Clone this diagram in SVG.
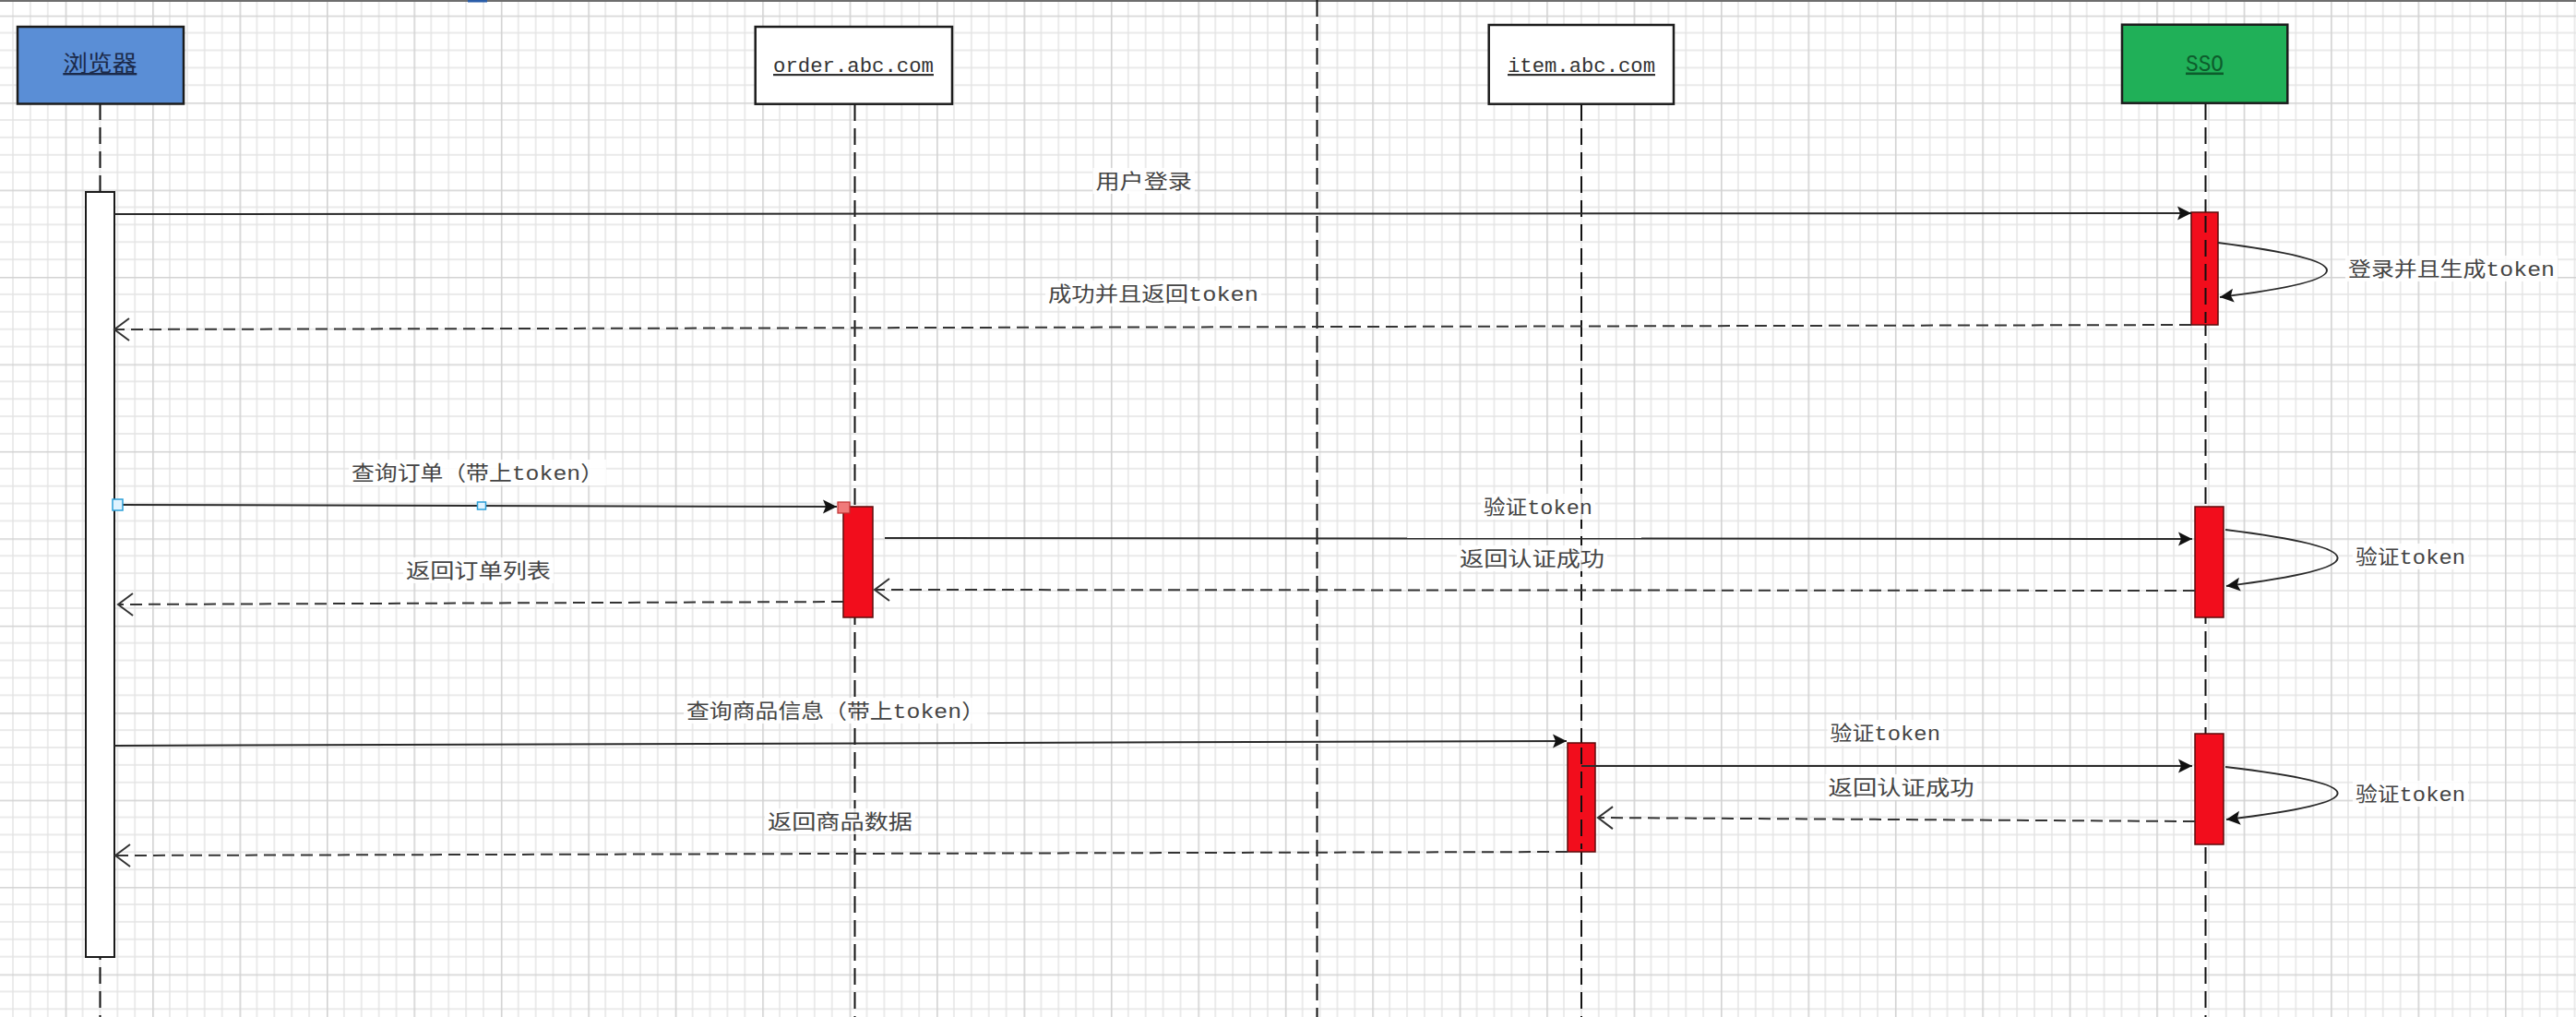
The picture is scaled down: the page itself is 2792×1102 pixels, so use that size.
<svg xmlns="http://www.w3.org/2000/svg" width="2792" height="1102" viewBox="0 0 2792 1102">
<style>
.box{stroke:#1c1c1c;stroke-width:2.5}
.life{stroke:#111;stroke-width:2;stroke-dasharray:18 8;fill:none}
.act{fill:#f20d1c;stroke:#5c0b0b;stroke-width:1.5}
.msg{stroke:#2a2a2a;stroke-width:2;fill:none}
.ret{stroke:#333;stroke-width:2;stroke-dasharray:13 7;fill:none}
.lbl{font-family:"Liberation Mono","Noto Sans CJK SC",monospace;font-size:22px;fill:#444}
.bg{fill:#fff;fill-opacity:0.85}
.node{font-family:"Liberation Mono","Noto Sans CJK SC",monospace;font-size:22px;text-decoration:underline}
</style>
<defs>
<pattern id="grid" x="70.66" y="16.7" width="94.44" height="94.44" patternUnits="userSpaceOnUse">
<path d="M18.888,0V94.44M37.776,0V94.44M56.664,0V94.44M75.552,0V94.44M0,18.888H94.44M0,37.776H94.44M0,56.664H94.44M0,75.552H94.44" stroke="#e3e3e3" stroke-width="1.4" fill="none"/>
<path d="M0.8,0V94.44M0,0.8H94.44" stroke="#d2d2d2" stroke-width="1.6" fill="none"/>
</pattern>
<marker id="fa" markerUnits="userSpaceOnUse" markerWidth="16" markerHeight="16" refX="15" refY="7.5" orient="auto" overflow="visible">
<path d="M0,0 L15,7.5 L0,15 L3,7.5 Z" fill="#111" stroke="none"/>
</marker>
<marker id="oa" markerUnits="userSpaceOnUse" markerWidth="20" markerHeight="26" refX="17" refY="12" orient="auto" overflow="visible">
<path d="M1,0 L17,12 L1,24" fill="none" stroke="#333" stroke-width="2" stroke-dasharray="none"/>
</marker>
</defs>
<rect width="2792" height="1102" fill="#fff"/>
<rect width="2792" height="1102" fill="url(#grid)"/>
<rect x="0" y="0" width="2792" height="2" fill="#6e6e6e"/>
<rect x="507" y="0" width="21" height="2.5" fill="#2a5da8"/>

<line x1="1427.5" y1="0" x2="1427.5" y2="1102" class="life"/>

<g id="browser">
<line x1="108.5" y1="112" x2="108.5" y2="1102" class="life"/>
<rect x="19" y="29" width="180" height="83.5" fill="#5a8ed6" class="box"/>
<text x="68.3" y="77" class="node" style="font-family:'Noto Sans CJK SC',sans-serif;font-size:24px" fill="#1b2a4a" textLength="80" lengthAdjust="spacingAndGlyphs">浏览器</text>
<rect x="93" y="208" width="31" height="829" fill="#fff" stroke="#1a1a1a" stroke-width="2"/>
</g>

<g id="order">
<line x1="926.5" y1="113" x2="926.5" y2="1102" class="life"/>
<rect x="818.7" y="29" width="213.3" height="83.7" fill="#fff" class="box"/>
<text x="838" y="78" class="node" fill="#333" textLength="174" lengthAdjust="spacingAndGlyphs">order.abc.com</text>
<rect x="914" y="549" width="32" height="120" class="act"/>
</g>

<g id="item">
<line x1="1714" y1="113" x2="1714" y2="1102" class="life"/>
<rect x="1613.7" y="27" width="200.3" height="85.7" fill="#fff" class="box"/>
<text x="1634" y="78" class="node" fill="#333" textLength="160" lengthAdjust="spacingAndGlyphs">item.abc.com</text>
<rect x="1699" y="805" width="30" height="118" class="act"/>
<line x1="1714" y1="810" x2="1714" y2="920" class="life"/>
</g>

<g id="sso">
<line x1="2390.5" y1="112" x2="2390.5" y2="1102" class="life"/>
<rect x="2300" y="26.7" width="179.3" height="85" fill="#20b058" class="box"/>
<text x="2369" y="76.5" class="node" style="font-size:26px" fill="#0d5c2c" textLength="41" lengthAdjust="spacingAndGlyphs">SSO</text>
<rect x="2375" y="230" width="29" height="122" class="act"/>
<line x1="2390.5" y1="234" x2="2390.5" y2="350" class="life"/>
<rect x="2379" y="549" width="31" height="120" class="act"/>
<rect x="2379" y="795" width="31" height="120" class="act"/>
</g>

<g id="connectors">
<g id="m1">
<path d="M124,232 L2375,231" class="msg" marker-end="url(#fa)"/>
<rect x="1184.5" y="182" width="110.5" height="28" class="bg"/>
<text x="1187.5" y="204" class="lbl" textLength="104.5" lengthAdjust="spacingAndGlyphs">用户登录</text>
</g>
<g id="m2">
<path d="M2404,263 C2561,283 2561,303 2406,322" class="msg" marker-end="url(#fa)"/>
<rect x="2542" y="277" width="230" height="28" class="bg"/>
<text x="2545" y="299" class="lbl" textLength="224" lengthAdjust="spacingAndGlyphs">登录并且生成token</text>
</g>
<g id="m3">
<path d="M2375,352 L124,357" class="ret" marker-end="url(#oa)"/>
<rect x="1133" y="304" width="234" height="28" class="bg"/>
<text x="1136" y="326" class="lbl" textLength="228" lengthAdjust="spacingAndGlyphs">成功并且返回token</text>
</g>
<g id="m4">
<path d="M128,547 L907,549" class="msg" marker-end="url(#fa)"/>
<rect x="122" y="541" width="11" height="12" fill="#dff3ff" stroke="#2a9fd8" stroke-width="1.5"/>
<rect x="517.5" y="544" width="9" height="8" fill="#dff3ff" stroke="#2a9fd8" stroke-width="1.5"/>
<rect x="908" y="544" width="13" height="12" fill="#f07a7a" stroke="#c03030" stroke-width="1.2"/>
<rect x="378" y="498" width="279" height="28" class="bg"/>
<text x="381" y="520" class="lbl" textLength="273" lengthAdjust="spacingAndGlyphs">查询订单（带上token）</text>
</g>
<g id="m5">
<path d="M959,583 L2376,584" class="msg" marker-end="url(#fa)"/>
<rect x="1605" y="535" width="124" height="28" class="bg"/>
<text x="1608" y="557" class="lbl" textLength="118" lengthAdjust="spacingAndGlyphs">验证token</text>
</g>
<g id="m6">
<path d="M2412,574 C2574,594 2574,615 2413,635" class="msg" marker-end="url(#fa)"/>
<rect x="2550" y="589" width="125" height="28" class="bg"/>
<text x="2553" y="611" class="lbl" textLength="119" lengthAdjust="spacingAndGlyphs">验证token</text>
</g>
<g id="m7">
<path d="M2379,640 L948,639" class="ret" marker-end="url(#oa)"/>
<rect x="1579" y="591" width="163" height="28" class="bg"/>
<text x="1582" y="613" class="lbl" textLength="157" lengthAdjust="spacingAndGlyphs">返回认证成功</text>
</g>
<g id="m8">
<path d="M914,652 L128,655" class="ret" marker-end="url(#oa)"/>
<rect x="437" y="604" width="163" height="28" class="bg"/>
<text x="440" y="626" class="lbl" textLength="157" lengthAdjust="spacingAndGlyphs">返回订单列表</text>
</g>
<g id="m9">
<path d="M124,808 L1698,803" class="msg" marker-end="url(#fa)"/>
<rect x="741" y="756" width="329" height="28" class="bg"/>
<text x="744" y="778" class="lbl" textLength="323" lengthAdjust="spacingAndGlyphs">查询商品信息（带上token）</text>
</g>
<g id="m10">
<path d="M1714,830 L2376,830" class="msg" marker-end="url(#fa)"/>
<rect x="1980.5" y="780" width="125.5" height="28" class="bg"/>
<text x="1983.5" y="802" class="lbl" textLength="119.5" lengthAdjust="spacingAndGlyphs">验证token</text>
</g>
<g id="m11">
<path d="M2412,831 C2574,850 2574,869 2413,888" class="msg" marker-end="url(#fa)"/>
<rect x="2550" y="846" width="125" height="28" class="bg"/>
<text x="2553" y="868" class="lbl" textLength="119" lengthAdjust="spacingAndGlyphs">验证token</text>
</g>
<g id="m12">
<path d="M2379,890 L1732,886" class="ret" marker-end="url(#oa)"/>
<rect x="1978.6" y="839" width="164" height="28" class="bg"/>
<text x="1981.6" y="861" class="lbl" textLength="158" lengthAdjust="spacingAndGlyphs">返回认证成功</text>
</g>
<g id="m13">
<path d="M1699,923 L125,927" class="ret" marker-end="url(#oa)"/>
<rect x="829" y="876" width="163" height="28" class="bg"/>
<text x="832" y="898" class="lbl" textLength="157" lengthAdjust="spacingAndGlyphs">返回商品数据</text>
</g>
</g>
</svg>
